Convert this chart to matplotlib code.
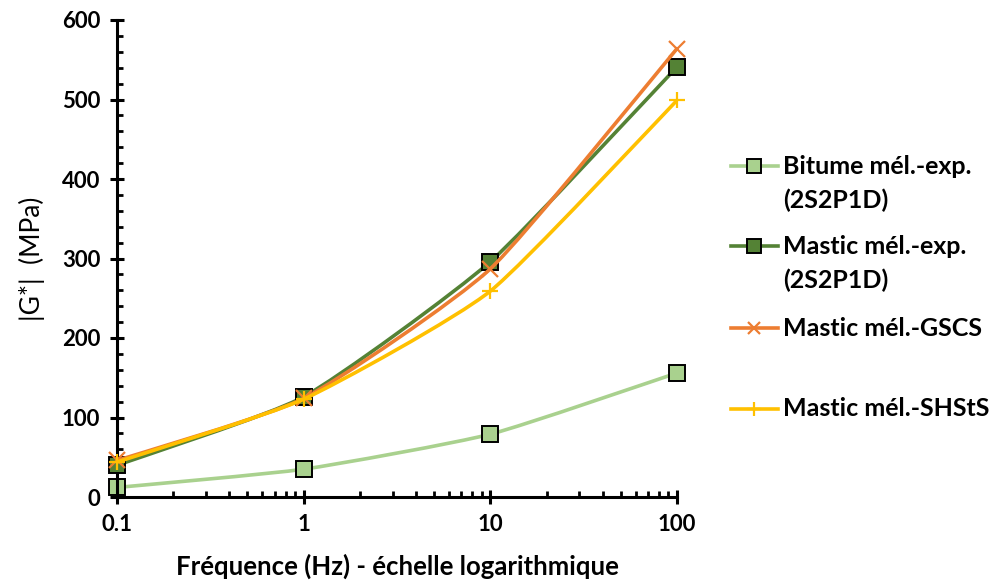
import numpy as np
import matplotlib
matplotlib.use("Agg")
import matplotlib.pyplot as plt
from matplotlib.path import Path
from matplotlib.patches import PathPatch
from matplotlib.lines import Line2D
from matplotlib.ticker import FixedLocator, NullFormatter, MultipleLocator

plt.rcParams["font.family"] = ["Lato", "DejaVu Sans"]

freq = [0.1, 1, 10, 100]
bitume_exp = [12, 35, 79, 156]
mastic_exp = [40, 126, 296, 541]
mastic_gscs = [46, 124, 287, 564]
mastic_shsts = [44, 123, 259, 499]

labels = [["Bitume mél.-exp.", "(2S2P1D)"], ["Mastic mél.-exp.", "(2S2P1D)"],
          ["Mastic mél.-GSCS"], ["Mastic mél.-SHStS"]]
colors = ["#A9D18E", "#548235", "#ED7D31", "#FFC000"]

W, H = 995, 581


def smooth_path(x, y, t=0.09):
    # Excel-like smoothed line: cubic bezier through the points (log x)
    lx = np.log10(x)
    y = np.asarray(y, float)
    n = len(lx)
    verts = [(x[0], y[0])]
    codes = [Path.MOVETO]
    for i in range(n - 1):
        i0 = max(i - 1, 0)
        i3 = min(i + 2, n - 1)
        c1 = (lx[i] + (lx[i + 1] - lx[i0]) * t, y[i] + (y[i + 1] - y[i0]) * t)
        c2 = (lx[i + 1] - (lx[i3] - lx[i]) * t, y[i + 1] - (y[i3] - y[i]) * t)
        verts += [(10 ** c1[0], c1[1]), (10 ** c2[0], c2[1]), (x[i + 1], y[i + 1])]
        codes += [Path.CURVE4] * 3
    return Path(verts, codes)


fig = plt.figure(figsize=(W / 100, H / 100), dpi=100)
ax = fig.add_axes([117 / W, 1 - 497 / H, (677 - 117) / W, (497 - 20) / H])
ax.set_xscale("log")
ax.set_xlim(0.1, 100)
ax.set_ylim(0, 600)

styles = [
    dict(marker="s", ms=12, mec="black", mew=1.4),
    dict(marker="s", ms=12, mec="black", mew=1.4),
    dict(marker="x", ms=11, mew=1.6),
    dict(marker="+", ms=12, mew=1.6),
]
series = [bitume_exp, mastic_exp, mastic_gscs, mastic_shsts]
for i, (vals, col, st) in enumerate(zip(series, colors, styles)):
    patch = PathPatch(smooth_path(freq, vals), fill=False, edgecolor=col,
                      lw=2.6, zorder=2 + i, capstyle="round", joinstyle="round")
    ax.add_patch(patch)
    mfc = col if st["marker"] == "s" else "none"
    mec = st.get("mec", col)
    ax.plot(freq, vals, ls="none", marker=st["marker"], ms=st["ms"],
            mfc=mfc, mec=mec, mew=st["mew"], zorder=2.5 + i, clip_on=False)

for s in ["top", "right"]:
    ax.spines[s].set_visible(False)
for s in ["left", "bottom"]:
    ax.spines[s].set_linewidth(2.2)

ax.xaxis.set_major_locator(FixedLocator(freq))
ax.set_xticklabels(["0.1", "1", "10", "100"])
ax.xaxis.set_minor_locator(FixedLocator(
    [m * 10.0 ** e for e in (-1, 0, 1) for m in range(2, 10)]))
ax.xaxis.set_minor_formatter(NullFormatter())
ax.yaxis.set_major_locator(MultipleLocator(100))
ax.yaxis.set_minor_locator(MultipleLocator(20))

ax.tick_params(axis="both", which="major", direction="inout", length=10,
               width=2.2, labelsize=16, pad=7)
ax.tick_params(axis="both", which="minor", direction="in", length=4, width=2)
for lab in ax.get_xticklabels() + ax.get_yticklabels():
    lab.set_fontweight("bold")

ax.set_xlabel("Fréquence (Hz) - échelle logarithmique", fontsize=18.5,
              fontweight="bold", labelpad=14)
ax.set_ylabel("|G*|  (MPa)", fontsize=19, labelpad=12)

# legend drawn entry by entry, handle aligned on the first text line
entry_y = [166, 246, 328, 409]
for lines, col, st, y0 in zip(labels, colors, styles, entry_y):
    yf = 1 - y0 / H
    mfc = col if st["marker"] == "s" else "none"
    mec = st.get("mec", col)
    fig.add_artist(Line2D([731 / W, 754 / W, 778 / W], [yf, yf, yf],
                          transform=fig.transFigure, color=col, lw=2.6,
                          marker=st["marker"], markevery=[1], ms=st["ms"] * 0.85,
                          mfc=mfc, mec=mec, mew=st["mew"]))
    for k, txt in enumerate(lines):
        fig.text(783 / W, 1 - (y0 + 34 * k) / H, txt, fontsize=18,
                 fontweight="bold", va="center", ha="left")

fig.savefig("out.png", dpi=100)
